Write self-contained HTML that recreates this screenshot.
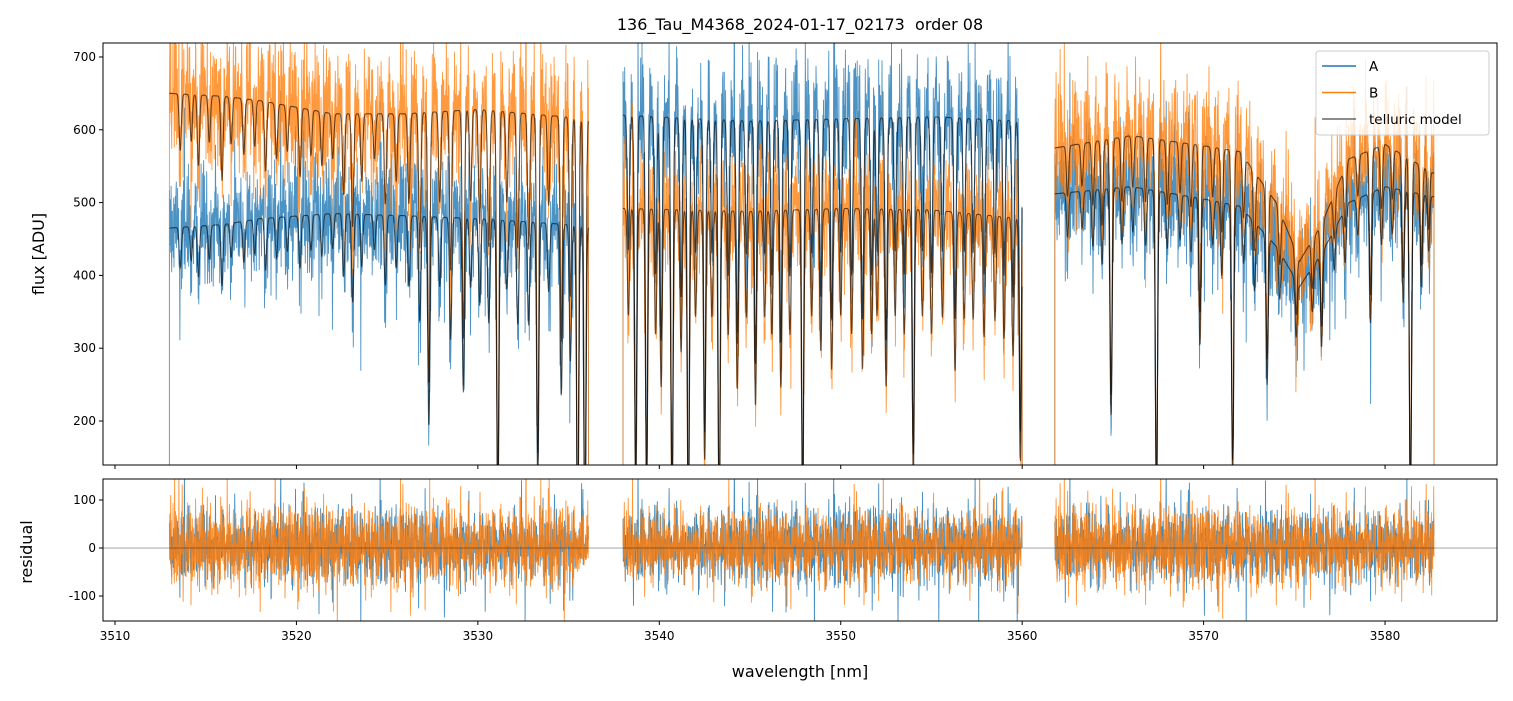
<!DOCTYPE html>
<html><head><meta charset="utf-8"><style>
body{margin:0;background:#fff;font-family:"Liberation Sans","DejaVu Sans",sans-serif}
svg text{font-family:"DejaVu Sans","Liberation Sans",sans-serif}
</style></head><body>
<svg id="c" width="1513" height="696" xmlns="http://www.w3.org/2000/svg">
<rect width="1513" height="696" fill="#fff"/>
<g id="topPanel"></g>
<g id="botPanel"></g>
<text x="800" y="30" text-anchor="middle" font-size="16">136_Tau_M4368_2024-01-17_02173&#160; order 08</text>
<text x="800" y="677" text-anchor="middle" font-size="16">wavelength [nm]</text>
<text transform="translate(44,254) rotate(-90)" text-anchor="middle" font-size="16">flux [ADU]</text>
<text transform="translate(32,552) rotate(-90)" text-anchor="middle" font-size="16">residual</text>
</svg>
<script>
const segments=[[3513.0,3536.1],[3538.0,3560.0],[3561.8,3582.7]];
const contKnotsX=[3513,3516,3518,3522,3526,3530,3536.1,3538,3545,3550,3555,3560,3561.8,3566,3570,3572,3574,3575.3,3576.5,3578,3580,3582.7];
const contA=[465,470,478,485,482,478,468,620,612,615,618,612,512,522,505,495,440,385,430,500,522,508];
const contB=[650,646,640,622,622,628,615,492,488,492,490,478,575,592,578,570,500,420,470,560,580,540];
const lineC=[3513.6,3514.2,3514.6,3515.2,3515.9,3516.4,3517.1,3517.7,3518.3,3518.9,3519.5,3520.2,3520.8,3521.4,3522.0,3522.6,3523.1,3523.6,3524.3,3524.9,3525.5,3526.2,3526.8,3527.3,3527.9,3528.5,3529.2,3529.6,3530.1,3530.6,3531.1,3531.6,3532.2,3532.8,3533.3,3533.9,3534.6,3535.1,3535.5,3535.9,
3538.3,3538.7,3539.3,3539.8,3540.1,3540.7,3541.2,3541.6,3542.0,3542.5,3542.9,3543.3,3543.8,3544.3,3544.8,3545.3,3545.8,3546.2,3546.7,3547.2,3547.9,3548.4,3548.9,3549.5,3550.0,3550.6,3551.2,3551.7,3552.0,3552.5,3553.0,3553.5,3554.0,3554.5,3555.0,3555.6,3556.3,3556.8,3557.3,3557.9,3558.5,3559.0,3559.5,3559.9,
3562.5,3563.3,3563.9,3564.4,3564.9,3565.5,3566.1,3566.8,3567.4,3568.0,3568.7,3569.3,3569.8,3570.5,3571.0,3571.6,3572.2,3572.8,3573.5,3574.2,3575.1,3576.0,3576.5,3577.2,3577.8,3578.5,3579.2,3579.8,3580.4,3581.0,3581.4,3582.0,3582.4];
const lineD=[0.12,0.1,0.15,0.1,0.18,0.1,0.12,0.1,0.15,0.12,0.1,0.15,0.1,0.12,0.1,0.18,0.25,0.15,0.1,0.2,0.15,0.2,0.3,0.6,0.2,0.35,0.5,0.2,0.25,0.3,0.85,0.2,0.3,0.3,0.75,0.2,0.5,0.4,0.95,0.95,
0.3,0.8,0.8,0.35,0.5,0.85,0.4,0.9,0.3,0.7,0.3,0.9,0.35,0.5,0.3,0.55,0.3,0.35,0.5,0.35,0.85,0.3,0.4,0.45,0.3,0.35,0.45,0.35,0.3,0.5,0.3,0.35,0.75,0.3,0.35,0.3,0.45,0.3,0.3,0.35,0.3,0.35,0.4,0.7,
0.12,0.1,0.15,0.2,0.6,0.15,0.12,0.15,0.85,0.15,0.12,0.15,0.4,0.12,0.2,0.75,0.15,0.2,0.45,0.15,0.2,0.15,0.3,0.12,0.15,0.1,0.35,0.15,0.12,0.3,0.85,0.25,0.15];
const noiseTable=[0.3,-0.8,0.5,0.1,-0.4,0.9,-0.2,-0.6,0.7,0.2,-1.0,0.4,-0.1,0.6,-0.7,0.8,0.0,-0.3,0.5,-0.9,0.2,1.0,-0.5,0.1,-0.2,0.6,-0.8,0.4,0.7,-0.4,-0.1,0.3,-0.6,0.9,0.2,-0.7,0.5,-0.3,0.8,-0.9,0.1,0.4,-0.5,0.6,-0.2,-0.8,1.0,0.0,-0.4,0.3,0.7,-0.6,0.2,-0.1,0.9,-0.7,0.4,-0.3,0.6,-1.0,0.1,0.5,-0.2,0.8];
const tickX=[3510,3520,3530,3540,3550,3560,3570,3580];
const tickY=[200,300,400,500,600,700];
const tickR=[-100,0,100];

const L=103,R=1497,T1=43,B1=465,T2=479,B2=621;
const xmin=3509.339,xmax=3586.17;
const sx=v=>L+(v-xmin)/(xmax-xmin)*(R-L);
const sy=v=>T1+(719.2-v)/(719.2-139.6)*(B1-T1);
const sr=v=>T2+(143.75-v)/(143.75+152)*(B2-T2);
const NS="http://www.w3.org/2000/svg";
function mk(tag,attrs,parent){const e=document.createElementNS(NS,tag);for(const k in attrs)e.setAttribute(k,attrs[k]);parent.appendChild(e);return e;}
function cont(x,arr){for(let i=0;i<contKnotsX.length-1;i++){if(x<=contKnotsX[i+1]){const t=(x-contKnotsX[i])/(contKnotsX[i+1]-contKnotsX[i]);return arr[i]+t*(arr[i+1]-arr[i]);}}return arr[arr.length-1];}
function trans(x){let f=1;for(let i=0;i<lineC.length;i++){const d=(x-lineC[i])/0.085;if(Math.abs(d)<5)f*=1-lineD[i]*Math.exp(-d*d);}return f;}
function noise(i,k){let n=noiseTable[(i+k)%64]*0.7+noiseTable[(i*13+k*7+5)%61]*0.5;
 const s=noiseTable[(i*29+k*3+3)%59];if(Math.abs(s)>0.85)n*=1.8;return n;}
const topPanel=document.getElementById('topPanel'),botPanel=document.getElementById('botPanel');
const svgRoot=document.getElementById('c');
const defs=mk('defs',{},svgRoot);
const c1=mk('clipPath',{id:'cp1'},defs);mk('rect',{x:L,y:T1,width:R-L,height:B1-T1},c1);
const c2=mk('clipPath',{id:'cp2'},defs);mk('rect',{x:L,y:T2,width:R-L,height:B2-T2},c2);
const g1=mk('g',{'clip-path':'url(#cp1)'},topPanel),g2=mk('g',{'clip-path':'url(#cp2)'},botPanel);
const step=0.018;
const series=[{arr:contA,col:'#1f77b4',k:0,amp:82,name:'series-a'},{arr:contB,col:'#ff7f0e',k:17,amp:84,name:'series-b'}];
const models=[];
series.forEach(s=>{
  let dTop='',dRes='',dMod='';
  segments.forEach(([a,b])=>{
    let i=0;let first=true;
    dTop+=`M${sx(a).toFixed(1)},${B1+5}`;
    for(let x=a;x<=b;x+=step,i++){
      const m=cont(x,s.arr)*trans(x);
      const n=noise(i,s.k)*s.amp;
      const scale=Math.sqrt(Math.max(m,80)/500);
      dTop+=`L${sx(x).toFixed(1)},${sy(m+n*scale).toFixed(1)}`;
      dRes+=(first?'M':'L')+sx(x).toFixed(1)+','+sr(n*scale).toFixed(1);
      dMod+=(first?'M':'L')+sx(x).toFixed(1)+','+sy(m).toFixed(1);
      first=false;
    }
    dTop+=`L${sx(b).toFixed(1)},${B1+5}`;
  });
  s.dTop=dTop;s.dRes=dRes;models.push(dMod);
});
series.forEach(s=>{const p=mk('path',{d:s.dTop,fill:'none',stroke:s.col,'stroke-width':0.9,opacity:0.8},g1);

});
models.forEach(d=>{const p=mk('path',{d:d,fill:'none',stroke:'#000','stroke-width':1.1,opacity:0.6},g1);

});
series.forEach(s=>{const p=mk('path',{d:s.dRes,fill:'none',stroke:s.col,'stroke-width':0.9,opacity:0.85},g2);

});
const zl=mk('line',{x1:L,x2:R,y1:sr(0),y2:sr(0),stroke:'#000','stroke-width':0.5,opacity:0.7},g2);


[[T1,B1],[T2,B2]].forEach(([t,b])=>{const r=mk('rect',{x:L,y:t,width:R-L,height:b-t,fill:'none',stroke:'#000','stroke-width':1},svgRoot);

});
tickX.forEach(v=>{const x=sx(v);
mk('line',{x1:x,x2:x,y1:B1,y2:B1+4,stroke:'#000'},svgRoot);
mk('line',{x1:x,x2:x,y1:B2,y2:B2+4,stroke:'#000'},svgRoot);
const t=mk('text',{x:x,y:B2+19,'text-anchor':'middle','font-size':12},svgRoot);t.textContent=v;

});
tickY.forEach(v=>{const y=sy(v);mk('line',{x1:L-4,x2:L,y1:y,y2:y,stroke:'#000'},svgRoot);
const t=mk('text',{x:L-7,y:y+4,'text-anchor':'end','font-size':12},svgRoot);t.textContent=v;

});
tickR.forEach(v=>{const y=sr(v);mk('line',{x1:L-4,x2:L,y1:y,y2:y,stroke:'#000'},svgRoot);
const t=mk('text',{x:L-7,y:y+4,'text-anchor':'end','font-size':12},svgRoot);t.textContent=v;

});
const lg=mk('g',{},svgRoot);


mk('rect',{x:1316,y:51,width:173,height:84,rx:3,fill:'#fff','fill-opacity':0.8,stroke:'#ccc'},lg);
[['A','#1f77b4',1],['B','#ff7f0e',1],['telluric model','#000',0.6]].forEach(([n,c,o],i)=>{
const y=66+i*26.5;
mk('line',{x1:1322,x2:1356,y1:y,y2:y,stroke:c,'stroke-width':1.5,opacity:o},lg);
const t=mk('text',{x:1369,y:y+5,'font-size':13.5},lg);t.textContent=n;

});
</script>
</body></html>
